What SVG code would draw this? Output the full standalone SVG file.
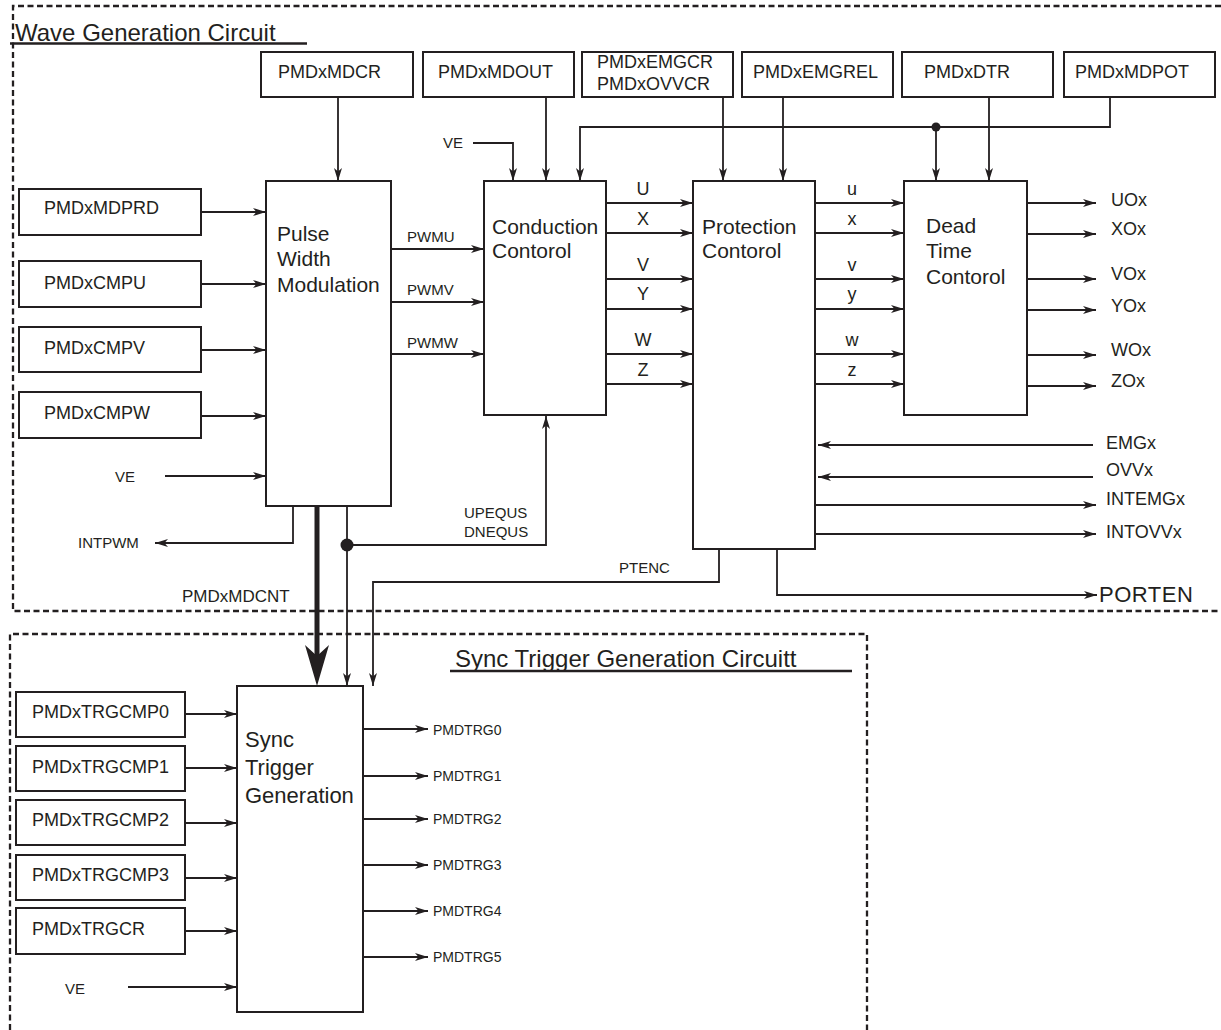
<svg xmlns="http://www.w3.org/2000/svg" width="1221" height="1030" viewBox="0 0 1221 1030">
<style>
text{font-family:"Liberation Sans",Arial,sans-serif;fill:#231f20}
.box{fill:#fff;stroke:#231f20;stroke-width:2}
.w{stroke:#231f20;stroke-width:1.8;fill:none}
.a{stroke:#231f20;stroke-width:1.8;fill:none;marker-end:url(#ah)}
.dash{stroke:#231f20;stroke-width:2.3;fill:none;stroke-dasharray:6 3.5}
.r18{font-size:18px}
.r15{font-size:15px}
.r14{font-size:14px}
.big{font-size:21px}
</style>
<defs>
<marker id="ah" markerUnits="userSpaceOnUse" markerWidth="14" markerHeight="9" refX="13" refY="4.5" orient="auto">
<path d="M0,0.5 L13,4.5 L0,8.5 L3.5,4.5 z" fill="#231f20"/>
</marker>
</defs>
<rect width="1221" height="1030" fill="#fff"/>

<g id="frames">
<path class="dash" d="M1221,6 H13 V611 H1221"/>
<path class="dash" d="M10,1030 V634 H867 V1030"/>
<text x="15" y="41" style="font-size:24px">Wave Generation Circuit</text>
<line x1="10" y1="43.5" x2="307" y2="43.5" stroke="#231f20" stroke-width="2.5"/>
<text x="455" y="667" style="font-size:24px">Sync Trigger Generation Circuitt</text>
<line x1="450" y1="671" x2="852" y2="671" stroke="#231f20" stroke-width="2.5"/>
</g>

<g id="n-mdcr"><rect class="box" x="261" y="52" width="152" height="45"/><text class="r18" x="278" y="78">PMDxMDCR</text></g>
<g id="n-mdout"><rect class="box" x="423" y="52" width="151" height="45"/><text class="r18" x="438" y="78">PMDxMDOUT</text></g>
<g id="n-emgcr"><rect class="box" x="582" y="52" width="151" height="45"/><text class="r18" x="597" y="68">PMDxEMGCR</text><text class="r18" x="597" y="90">PMDxOVVCR</text></g>
<g id="n-emgrel"><rect class="box" x="742" y="52" width="151" height="45"/><text class="r18" x="753" y="78">PMDxEMGREL</text></g>
<g id="n-dtr"><rect class="box" x="902" y="52" width="151" height="45"/><text class="r18" x="924" y="78">PMDxDTR</text></g>
<g id="n-mdpot"><rect class="box" x="1064" y="52" width="151" height="45"/><text class="r18" x="1075" y="78">PMDxMDPOT</text></g>

<g id="n-mdprd"><rect class="box" x="19" y="189" width="182" height="46"/><text class="r18" x="44" y="214">PMDxMDPRD</text></g>
<g id="n-cmpu"><rect class="box" x="19" y="261" width="182" height="46"/><text class="r18" x="44" y="289">PMDxCMPU</text></g>
<g id="n-cmpv"><rect class="box" x="19" y="327" width="182" height="45"/><text class="r18" x="44" y="354">PMDxCMPV</text></g>
<g id="n-cmpw"><rect class="box" x="19" y="392" width="182" height="46"/><text class="r18" x="44" y="419">PMDxCMPW</text></g>

<g id="n-pwm"><rect class="box" x="266" y="181" width="125" height="325"/>
<text class="big" x="277" y="241">Pulse</text><text class="big" x="277" y="266">Width</text><text class="big" x="277" y="292">Modulation</text></g>
<g id="n-cond"><rect class="box" x="484" y="181" width="122" height="234"/>
<text class="big" x="492" y="234">Conduction</text><text class="big" x="492" y="258">Contorol</text></g>
<g id="n-prot"><rect class="box" x="693" y="181" width="122" height="368"/>
<text class="big" x="702" y="234">Protection</text><text class="big" x="702" y="258">Contorol</text></g>
<g id="n-dead"><rect class="box" x="904" y="181" width="123" height="234"/>
<text class="big" x="926" y="233">Dead</text><text class="big" x="926" y="258">Time</text><text class="big" x="926" y="284">Contorol</text></g>

<g id="n-trg0"><rect class="box" x="16" y="692" width="169" height="45"/><text class="r18" x="32" y="718">PMDxTRGCMP0</text></g>
<g id="n-trg1"><rect class="box" x="16" y="746" width="169" height="45"/><text class="r18" x="32" y="773">PMDxTRGCMP1</text></g>
<g id="n-trg2"><rect class="box" x="16" y="800" width="169" height="45"/><text class="r18" x="32" y="826">PMDxTRGCMP2</text></g>
<g id="n-trg3"><rect class="box" x="16" y="855" width="169" height="45"/><text class="r18" x="32" y="881">PMDxTRGCMP3</text></g>
<g id="n-trgcr"><rect class="box" x="16" y="908" width="169" height="46"/><text class="r18" x="32" y="935">PMDxTRGCR</text></g>
<g id="n-sync"><rect class="box" x="237" y="686" width="126" height="326"/>
<text style="font-size:22px" x="245" y="747">Sync</text><text style="font-size:22px" x="245" y="775">Trigger</text><text style="font-size:22px" x="245" y="803">Generation</text></g>

<g id="connectors">
<line class="a" x1="338" y1="97" x2="338" y2="181"/>
<line class="a" x1="546" y1="97" x2="546" y2="181"/>
<line class="a" x1="723" y1="97" x2="723" y2="181"/>
<line class="a" x1="783" y1="97" x2="783" y2="181"/>
<line class="a" x1="989" y1="97" x2="989" y2="181"/>
<path class="a" d="M1110,97 V127 H580 V181"/>
<line class="a" x1="936" y1="127" x2="936" y2="181"/>
<circle cx="936" cy="127" r="4.5" fill="#231f20"/>
<path class="a" d="M473,143 H513 V181"/>
<text class="r15" x="443" y="148">VE</text>

<line class="a" x1="201" y1="212" x2="266" y2="212"/>
<line class="a" x1="201" y1="284" x2="266" y2="284"/>
<line class="a" x1="201" y1="350" x2="266" y2="350"/>
<line class="a" x1="201" y1="416" x2="266" y2="416"/>
<line class="a" x1="165" y1="476" x2="266" y2="476"/>
<text class="r15" x="115" y="482">VE</text>

<line class="a" x1="391" y1="249" x2="484" y2="249"/>
<line class="a" x1="391" y1="302" x2="484" y2="302"/>
<line class="a" x1="391" y1="354" x2="484" y2="354"/>
<text class="r15" x="407" y="242">PWMU</text>
<text class="r15" x="407" y="295">PWMV</text>
<text class="r15" x="407" y="348">PWMW</text>

<line class="a" x1="606" y1="203" x2="693" y2="203"/>
<line class="a" x1="606" y1="233" x2="693" y2="233"/>
<line class="a" x1="606" y1="279" x2="693" y2="279"/>
<line class="a" x1="606" y1="309" x2="693" y2="309"/>
<line class="a" x1="606" y1="354" x2="693" y2="354"/>
<line class="a" x1="606" y1="384" x2="693" y2="384"/>
<g class="r18" text-anchor="middle">
<text x="643" y="195">U</text><text x="643" y="225">X</text><text x="643" y="271">V</text><text x="643" y="300">Y</text><text x="643" y="346">W</text><text x="643" y="376">Z</text>
</g>

<line class="a" x1="815" y1="203" x2="904" y2="203"/>
<line class="a" x1="815" y1="233" x2="904" y2="233"/>
<line class="a" x1="815" y1="279" x2="904" y2="279"/>
<line class="a" x1="815" y1="309" x2="904" y2="309"/>
<line class="a" x1="815" y1="354" x2="904" y2="354"/>
<line class="a" x1="815" y1="384" x2="904" y2="384"/>
<g class="r18" text-anchor="middle">
<text x="852" y="195">u</text><text x="852" y="225">x</text><text x="852" y="271">v</text><text x="852" y="300">y</text><text x="852" y="346">w</text><text x="852" y="376">z</text>
</g>

<line class="a" x1="1027" y1="203" x2="1096" y2="203"/>
<line class="a" x1="1027" y1="234" x2="1096" y2="234"/>
<line class="a" x1="1027" y1="279" x2="1096" y2="279"/>
<line class="a" x1="1027" y1="310" x2="1096" y2="310"/>
<line class="a" x1="1027" y1="355" x2="1096" y2="355"/>
<line class="a" x1="1027" y1="386" x2="1096" y2="386"/>
<g class="r18">
<text x="1111" y="206">UOx</text><text x="1111" y="235">XOx</text><text x="1111" y="280">VOx</text><text x="1111" y="312">YOx</text><text x="1111" y="356">WOx</text><text x="1111" y="387">ZOx</text>
</g>

<line class="a" x1="1093" y1="445" x2="818" y2="445"/>
<line class="a" x1="1093" y1="477" x2="818" y2="477"/>
<line class="a" x1="815" y1="505" x2="1096" y2="505"/>
<line class="a" x1="815" y1="534" x2="1096" y2="534"/>
<g class="r18">
<text x="1106" y="449">EMGx</text><text x="1106" y="476">OVVx</text><text x="1106" y="505">INTEMGx</text><text x="1106" y="538">INTOVVx</text>
</g>
<path class="a" d="M777,549 V595 H1097"/>
<text x="1099" y="602" style="font-size:22px;letter-spacing:0.5px">PORTEN</text>

<path class="a" d="M293,506 V543 H155"/>
<text class="r15" x="78" y="548">INTPWM</text>
<line x1="317" y1="506" x2="317" y2="656" stroke="#231f20" stroke-width="5"/>
<polygon points="317,686 305,645 317,656 329,645" fill="#231f20"/>
<text x="182" y="602" style="font-size:17px">PMDxMDCNT</text>
<line class="a" x1="347" y1="506" x2="347" y2="686"/>
<circle cx="347" cy="545" r="6.5" fill="#231f20"/>
<path class="a" d="M347,545 H546 V416"/>
<text class="r15" x="464" y="518">UPEQUS</text>
<text class="r15" x="464" y="537">DNEQUS</text>
<path class="a" d="M719,549 V582 H373 V686"/>
<text class="r15" x="619" y="573">PTENC</text>

<line class="a" x1="185" y1="714" x2="237" y2="714"/>
<line class="a" x1="185" y1="768" x2="237" y2="768"/>
<line class="a" x1="185" y1="823" x2="237" y2="823"/>
<line class="a" x1="185" y1="878" x2="237" y2="878"/>
<line class="a" x1="185" y1="931" x2="237" y2="931"/>
<line class="a" x1="128" y1="987" x2="237" y2="987"/>
<text class="r15" x="65" y="994">VE</text>

<line class="a" x1="363" y1="729" x2="428" y2="729"/>
<line class="a" x1="363" y1="776" x2="428" y2="776"/>
<line class="a" x1="363" y1="819" x2="428" y2="819"/>
<line class="a" x1="363" y1="865" x2="428" y2="865"/>
<line class="a" x1="363" y1="911" x2="428" y2="911"/>
<line class="a" x1="363" y1="957" x2="428" y2="957"/>
<g class="r14">
<text x="433" y="735">PMDTRG0</text><text x="433" y="781">PMDTRG1</text><text x="433" y="824">PMDTRG2</text><text x="433" y="870">PMDTRG3</text><text x="433" y="916">PMDTRG4</text><text x="433" y="962">PMDTRG5</text>
</g>
</g>
</svg>
